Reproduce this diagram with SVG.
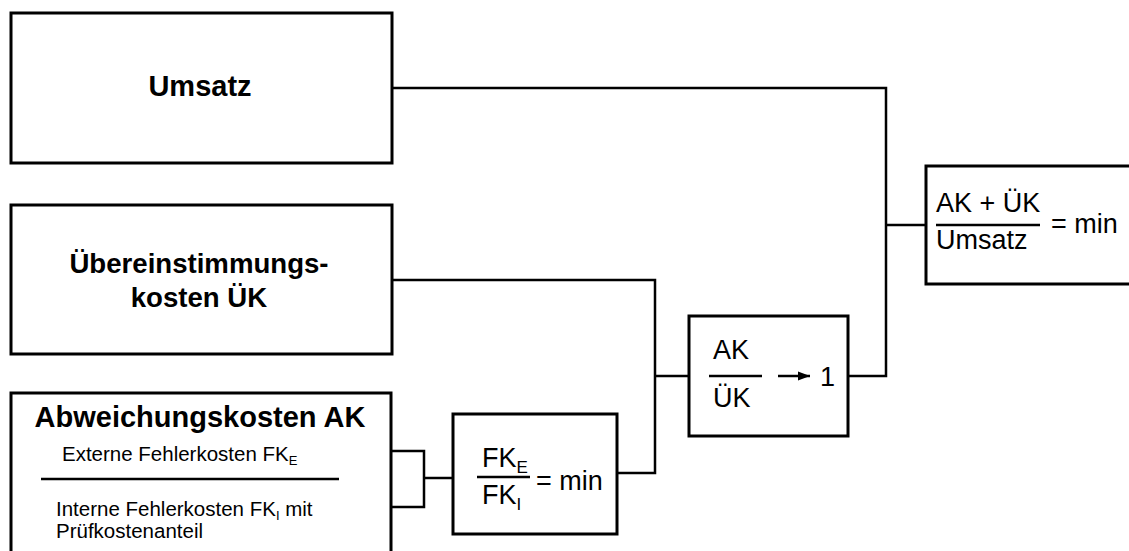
<svg xmlns="http://www.w3.org/2000/svg" width="1129" height="551" viewBox="0 0 1129 551">
<defs>
<style>
.box{fill:#fff;stroke:#000;stroke-width:3}
.con{fill:none;stroke:#000;stroke-width:2.5}
.t{font-family:"Liberation Sans",Arial,sans-serif;fill:#000}
.b{font-weight:bold;font-size:29px}
.b2{font-weight:bold;font-size:27.6px}
.s{font-size:20.5px}
.f{font-size:27px}
.sub{font-size:13px}
.fsub{font-size:17px}
</style>
<marker id="ah" viewBox="0 0 12 10" refX="12" refY="5" markerWidth="12" markerHeight="10" orient="auto" markerUnits="userSpaceOnUse"><path d="M0,0.5 L12,5 L0,9.5 Z" fill="#000"/></marker>
</defs>
<rect width="1129" height="551" fill="#fff"/>
<g id="connectors">
<path class="con" d="M392,88 H886 V376 H848"/>
<path class="con" d="M886,225 H926"/>
<path class="con" d="M392,280 H655 V473 H617"/>
<path class="con" d="M655,376 H689"/>
<path class="con" d="M391,451 H424 V507 H391"/>
<path class="con" d="M424,478 H453"/>
</g>
<g id="umsatz">
<rect class="box" x="11" y="13" width="381" height="150"/>
<text class="t b" x="200" y="96" text-anchor="middle">Umsatz</text>
</g>
<g id="uebereinstimmung">
<rect class="box" x="11" y="205" width="381" height="149"/>
<text class="t b2" x="199" y="273" text-anchor="middle">Übereinstimmungs-</text>
<text class="t b2" x="199" y="307" text-anchor="middle">kosten ÜK</text>
</g>
<g id="abweichung">
<rect class="box" x="11" y="393" width="380" height="175"/>
<text class="t b" x="200" y="427" text-anchor="middle">Abweichungskosten AK</text>
<text class="t s" x="62" y="461">Externe Fehlerkosten FK<tspan class="sub" dy="4">E</tspan></text>
<line class="con" x1="41" y1="479" x2="339" y2="479" stroke-width="3"/>
<text class="t s" x="56" y="516">Interne Fehlerkosten FK<tspan class="sub" dy="4">I</tspan><tspan dy="-4"> mit</tspan></text>
<text class="t s" x="56" y="538">Prüfkostenanteil</text>
</g>
<g id="fk">
<rect class="box" x="453" y="414" width="164" height="120"/>
<text class="t f" x="482" y="467">FK<tspan class="fsub" dy="6">E</tspan></text>
<line class="con" x1="477" y1="477" x2="530" y2="477"/>
<text class="t f" x="482" y="504">FK<tspan class="fsub" dy="6">I</tspan></text>
<text class="t f" x="536" y="490">= min</text>
</g>
<g id="akuek">
<rect class="box" x="689" y="316" width="159" height="120"/>
<text class="t f" x="713" y="359">AK</text>
<line class="con" x1="709" y1="376" x2="762" y2="376"/>
<text class="t f" x="713" y="407">ÜK</text>
<line class="con" x1="778" y1="376" x2="810" y2="376" marker-end="url(#ah)"/>
<text class="t f" x="820" y="386">1</text>
</g>
<g id="gesamt">
<rect class="box" x="926" y="166" width="220" height="118"/>
<text class="t f" x="936" y="212">AK + ÜK</text>
<line class="con" x1="936" y1="225" x2="1040" y2="225"/>
<text class="t f" x="936" y="249">Umsatz</text>
<text class="t f" x="1051" y="233">= min</text>
</g>
</svg>
